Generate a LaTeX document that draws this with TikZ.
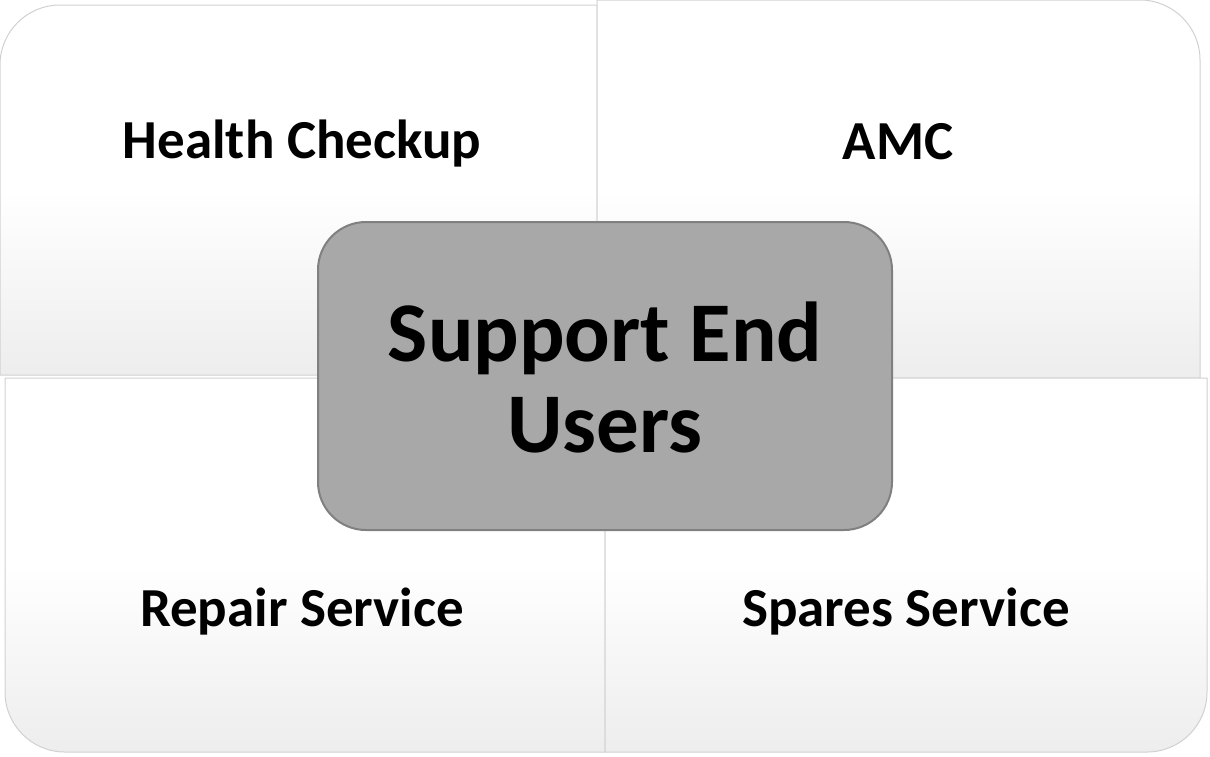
\documentclass[tikz,border=0pt]{standalone}
\usepackage{fontspec}
\setmainfont{Carlito}
\begin{document}
\begin{tikzpicture}[x=1pt,y=-1pt]
            \tikzset{
                quadbox/.style={draw=black!18, line width=1pt, top color=white, bottom color=black!7, middle color=white},
                hubbox/.style={draw=black!50, line width=2pt, fill=black!34, rounded corners=48pt},
                label/.style={font=\fontsize{55}{66}\selectfont\bfseries, align=center},
                hub/.style={font=\fontsize{85}{91}\selectfont\bfseries, align=center}
            }

            \useasboundingbox (0,0) rectangle (1210,756);

            % four corner panels
            \draw[quadbox] (597,375) -- (0,375) -- (0,65) arc[start angle=180, end angle=270, radius=60] -- (597,5) -- cycle;
            \draw[quadbox] (597,378) -- (597,0) -- (1140,0) arc[start angle=270, end angle=360, radius=60] -- (1200,378) -- cycle;
            \draw[quadbox] (605,378) -- (5,378) -- (5,692) arc[start angle=180, end angle=90, radius=60] -- (605,752) -- cycle;
            \draw[quadbox] (605,378) -- (1207,378) -- (1207,692) arc[start angle=0, end angle=90, radius=60] -- (605,752) -- cycle;

            \node[label] (hc) at (302,144) {Health Checkup};
            \node[label] (amc) at (898,142) {AMC};
            \node[label] (rep) at (302,612) {Repair Service};
            \node[label] (spa) at (906,612) {Spares Service};

            % centre
            \draw[hubbox] (318,222) rectangle (892,530);
            \node[hub] (seu) at (605,377) {Support End\\Users};
\end{tikzpicture}
\end{document}
